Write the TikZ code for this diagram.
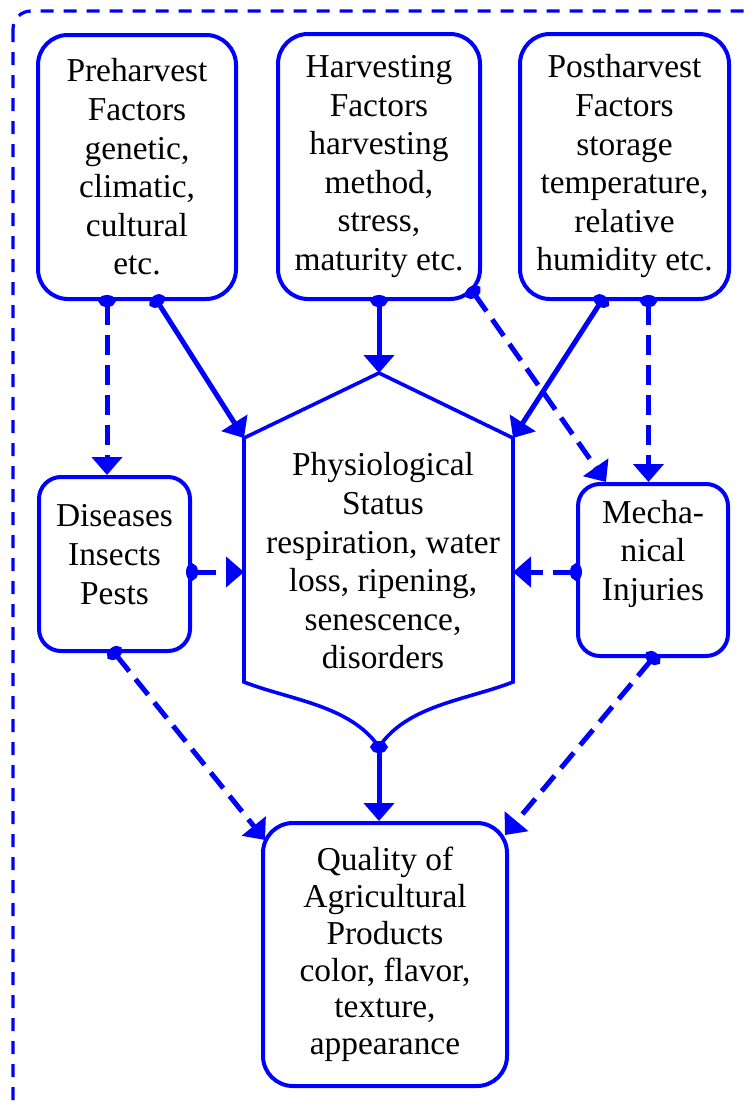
\documentclass[tikz,border=0pt]{standalone}
\usepackage{fontspec}
\setmainfont{Liberation Serif}
\usetikzlibrary{arrows.meta}
\begin{document}
\begin{tikzpicture}[x=0.5pt, y=-0.5pt,
    factor/.style ={draw=blue, line width=2pt, rounded corners=15pt, align=center, inner sep=2pt, font=\fontsize{16.7}{19.3}\selectfont},
    flow/.style ={blue, line width=2.5pt, shorten <=-3pt, {Circle[length=6pt,width=8.5pt]}-{Triangle[length=9pt,width=15pt]}},
    link/.style ={flow, dash pattern=on 10pt off 5pt}]
   \clip (0,0) rectangle (752,1108);
   \draw[blue, line width=1.6pt, dash pattern=on 6.5pt off 5pt, rounded corners=9pt] (13,11) rectangle (762,1120);
   \node[factor, minimum width=99pt, minimum height=132pt] (pre) at (137,167) {Preharvest\\Factors\\genetic,\\climatic,\\cultural\\etc.};
   \node[factor, minimum width=101pt, minimum height=132.5pt] (harv) at (379,166.5) {Harvesting\\Factors\\harvesting\\method,\\stress,\\maturity etc.};
   \node[factor, minimum width=104.5pt, minimum height=132.5pt] (post) at (624.5,166.5) {Postharvest\\Factors\\storage\\temperature,\\relative\\humidity etc.};
   \node[factor, rounded corners=11pt, minimum width=75.5pt, minimum height=87pt, text depth=9.6pt] (dis) at (114.5,564) {Diseases\\Insects\\Pests};
   \node[factor, rounded corners=11pt, minimum width=75pt, minimum height=86pt, text depth=19.6pt] (mech) at (653,570) {Mecha-\\nical\\Injuries};
   \node[factor, minimum width=122pt, minimum height=131.5pt, font=\fontsize{16.7}{18.4}\selectfont] (qual) at (385,954.5) {Quality of\\Agricultural\\Products\\color, flavor,\\texture,\\appearance};
   % physiological status
   \coordinate (physN) at (379,373);
   \coordinate (physNE) at (513,438);
   \coordinate (physSE) at (513,682);
   \coordinate (physS) at (379,747);
   \coordinate (physSW) at (244,682);
   \coordinate (physNW) at (244,438);
   \coordinate (physW) at (244,572);
   \coordinate (physE) at (513,572);
   \draw[blue, line width=1.8pt] (physNW) -- (physN) -- (physNE) -- (physSE) .. controls (467,700) and (407,705) .. (physS) .. controls (350,705) and (290,700) .. (physSW) -- cycle;
   \node[factor, draw=none] (phys) at (383,561) {Physiological\\Status\\respiration, water\\loss, ripening,\\senescence,\\disorders};
   \draw[link] ([xshift=-15pt]pre.south) -- ([xshift=-15pt]pre.south |- dis.north);
   \draw[flow] ([xshift=10pt]pre.south) -- (physNW);
   \draw[flow] (harv.south) -- (physN);
   \draw[link] ([xshift=-4.5pt,yshift=4.5pt]harv.south east) -- ([xshift=-23.5pt]mech.north);
   \draw[flow] ([xshift=-11.5pt]post.south) -- (physNE);
   \draw[link] ([xshift=12pt]post.south) -- ([xshift=12pt]post.south |- mech.north);
   \draw[link] (dis.east |- physW) -- (physW);
   \draw[link] (mech.west |- physE) -- (physE);
   \draw[link] (dis.south) -- ([xshift=2pt,yshift=-9.5pt]qual.north west);
   \draw[flow] (physS) -- (physS |- qual.north);
   \draw[link] (mech.south) -- ([xshift=-2pt,yshift=-7pt]qual.north east);
\end{tikzpicture}
\end{document}
